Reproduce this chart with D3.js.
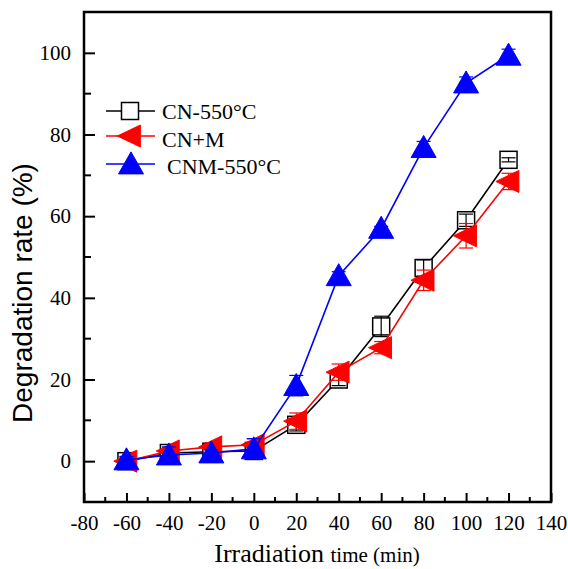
<!DOCTYPE html>
<html lang="en">
<head>
<meta charset="UTF-8">
<title>Degradation rate</title>
<script src="https://cdn.jsdelivr.net/npm/d3@7"></script>
<style>
  body { margin: 0; background: #fff; }
</style>
</head>
<body>
<script>
// data
var times = [-60, -40, -20, 0, 20, 40, 60, 80, 100, 120];
var cn550 = [0, 2, 2.3, 2.5, 8.9, 20, 33, 47.3, 59, 73.8];
var cnM = [0, 2.5, 3.5, 4, 9.8, 21.8, 27.8, 44.3, 55.2, 68.5];
var cnm550 = [0.3, 1.5, 2, 3, 18.5, 45.4, 57, 76.8, 92.6, 99.4];
var cn550Err = [0.8, 0.8, 0.8, 1.5, 1.5, 1.5, 2.5, 2, 1.5, 0.5];
var cnMErr = [1.2, 0.8, 1, 1.5, 2, 2, 1.5, 2.5, 3, 2];
var cnm550Err = [0.8, 2, 0.8, 2.5, 2.5, 1, 0.5, 1.5, 1.5, 1.5];
var seriesNames = ["CN-550\u00B0C", "CN+M", "CNM-550\u00B0C"];
var xTicks = [-80, -60, -40, -20, 0, 20, 40, 60, 80, 100, 120, 140];
var yTicks = [0, 20, 40, 60, 80, 100];

var width = 568, height = 569;
var svg = d3.select("body").append("svg")
    .attr("width", width)
    .attr("height", height);

var x = d3.scaleLinear().domain([-80, 140]).range([84, 551]);
var y = d3.scaleLinear().domain([-10, 110]).range([502, 12]);

var serif = "'Liberation Serif', 'Times New Roman', serif";

// marker shapes
function upTri(w, h) {
    return "M0," + (-h * 0.55) + "L" + (w / 2) + "," + (h * 0.45) + "L" + (-w / 2) + "," + (h * 0.45) + "Z";
}
function leftTri(w, h) {
    return "M" + (-w * 0.55) + ",0L" + (w * 0.45) + "," + (-h / 2) + "L" + (w * 0.45) + "," + (h / 2) + "Z";
}

var series = [
    {name: seriesNames[0], vals: cn550, err: cn550Err, color: "#000", shape: "square"},
    {name: seriesNames[1], vals: cnM, err: cnMErr, color: "#ff0000", shape: "left"},
    {name: seriesNames[2], vals: cnm550, err: cnm550Err, color: "#0000ff", shape: "up"}
];

function drawMarker(g, s) {
    if (s.shape == "square") {
        g.append("rect").attr("x", -8.5).attr("y", -8.5).attr("width", 17).attr("height", 17)
            .attr("fill", "#fff").attr("stroke", s.color).attr("stroke-width", 1.5);
    } else if (s.shape == "left") {
        g.append("path").attr("d", leftTri(23, 22)).attr("fill", s.color).attr("stroke", s.color).attr("stroke-width", 1);
    } else {
        g.append("path").attr("d", upTri(25, 22)).attr("fill", s.color).attr("stroke", s.color).attr("stroke-width", 1);
    }
}

var line = d3.line().x(function (d) { return x(d[0]); }).y(function (d) { return y(d[1]); });

series.forEach(function (s) {
    var pts = times.map(function (t, i) { return [t, s.vals[i], s.err[i]]; });
    var g = svg.append("g");
    g.append("path").datum(pts).attr("d", line)
        .attr("fill", "none").attr("stroke", s.color).attr("stroke-width", 1.6);

    pts.forEach(function (p) {
        var m = g.append("g").attr("transform", "translate(" + x(p[0]) + "," + y(p[1]) + ")");
        drawMarker(m, s);
    });

    // error bars
    var eb = g.append("g").attr("stroke", s.color).attr("stroke-width", 1.2);
    pts.forEach(function (p) {
        var cx = x(p[0]);
        var y1 = y(p[1] - p[2]), y2 = y(p[1] + p[2]);
        eb.append("line").attr("x1", cx).attr("x2", cx).attr("y1", y1).attr("y2", y2);
        eb.append("line").attr("x1", cx - 7).attr("x2", cx + 7).attr("y1", y1).attr("y2", y1);
        eb.append("line").attr("x1", cx - 7).attr("x2", cx + 7).attr("y1", y2).attr("y2", y2);
    });
});

// frame
svg.append("rect")
    .attr("x", x(-80)).attr("y", y(110))
    .attr("width", x(140) - x(-80)).attr("height", y(-10) - y(110))
    .attr("fill", "none").attr("stroke", "#000").attr("stroke-width", 2.5);

// plain hyphen for negatives, like the original
var fmt = function (d) { return String(d); };

// x axis: inward ticks
var xAxis = d3.axisBottom(x).tickValues(xTicks).tickSize(-9).tickPadding(17).tickFormat(fmt);
var gx = svg.append("g").attr("transform", "translate(0," + y(-10) + ")").call(xAxis);
var xMinor = d3.range(-70, 140, 20);
gx.selectAll(".minor").data(xMinor).enter().append("line")
    .attr("x1", function (d) { return x(d); }).attr("x2", function (d) { return x(d); })
    .attr("y1", 0).attr("y2", -5).attr("stroke", "#000").attr("stroke-width", 2);

// y axis: inward ticks
var yAxis = d3.axisLeft(y).tickValues(yTicks).tickSize(-11).tickPadding(13).tickFormat(fmt);
var gy = svg.append("g").attr("transform", "translate(" + x(-80) + ",0)").call(yAxis);
var yMinor = [10, 30, 50, 70, 90];
gy.selectAll(".minor").data(yMinor).enter().append("line")
    .attr("x1", 0).attr("x2", 7)
    .attr("y1", function (d) { return y(d); }).attr("y2", function (d) { return y(d); })
    .attr("stroke", "#000").attr("stroke-width", 2);

[gx, gy].forEach(function (g) {
    g.select(".domain").remove();
    g.selectAll(".tick line").attr("stroke", "#000").attr("stroke-width", 2);
    g.selectAll(".tick text").attr("fill", "#000")
        .style("font-family", serif).style("font-size", "21px");
});
gx.selectAll(".tick text").attr("dy", "0.71em").attr("transform", "translate(0,-4)");

// axis titles
svg.append("text")
    .attr("transform", "translate(32," + 293 + ") rotate(-90)")
    .attr("text-anchor", "middle")
    .style("font-family", "'Liberation Sans', Arial, sans-serif")
    .style("font-size", "28px")
    .text("Degradation rate (%)");

var xt = svg.append("text")
    .attr("x", 317).attr("y", 562)
    .attr("text-anchor", "middle")
    .style("font-family", serif);
xt.append("tspan").style("font-size", "26px").text("Irradiation ");
xt.append("tspan").style("font-size", "21px").text("time (min)");

// legend
var legY = [111, 136, 164];
var legend = svg.append("g");
series.forEach(function (s, i) {
    var g = legend.append("g").attr("transform", "translate(0," + legY[i] + ")");
    g.append("line").attr("x1", 106).attr("x2", 155).attr("y1", 0).attr("y2", 0)
        .attr("stroke", s.color).attr("stroke-width", 1.6);
    var m = g.append("g").attr("transform", "translate(" + (i == 2 ? 131 : 130) + ",0)");
    drawMarker(m, s);
    g.append("text").attr("x", i == 2 ? 167 : 162).attr("y", i == 0 ? 7.5 : (i == 1 ? 11 : 10))
        .style("font-family", serif).style("font-size", "22px")
        .text(s.name);
});
</script>
</body>
</html>
